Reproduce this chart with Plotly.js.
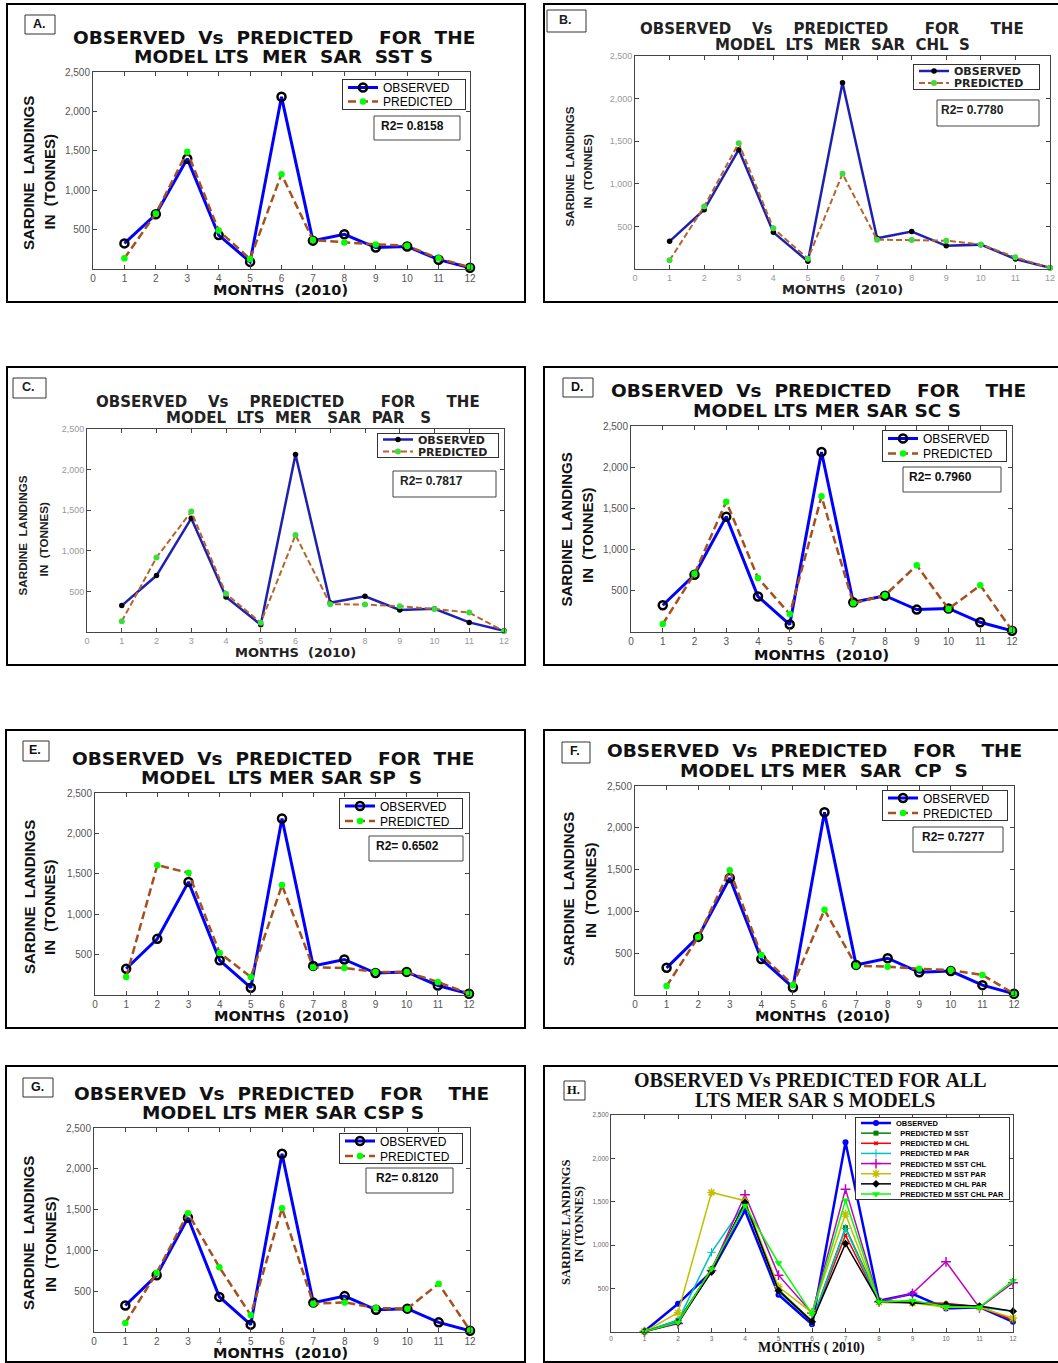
<!DOCTYPE html>
<html><head><meta charset="utf-8">
<script src="https://cdn.plot.ly/plotly-3.0.1.min.js"></script>
<style>html,body{margin:0;padding:0;background:#fff;}#chart{width:1058px;height:1363px;}</style>
</head><body><div id="chart"></div>
<script>
// ---------------- DATA ----------------
const months = [1, 2, 3, 4, 5, 6, 7, 8, 9, 10, 11, 12];
const xTickVals = [0, 1, 2, 3, 4, 5, 6, 7, 8, 9, 10, 11, 12];
const xTickText = ['0', '1', '2', '3', '4', '5', '6', '7', '8', '9', '10', '11', '12'];
const yTickVals = [500, 1000, 1500, 2000, 2500];
const yTickText = ['500', '1,000', '1,500', '2,000', '2,500'];

const observed = [325, 695, 1400, 430, 90, 2185, 360, 440, 272, 286, 118, 15];
const predSST = [135, 704, 1488, 489, 126, 1202, 367, 337, 312, 295, 135, 21];
const predCHL = [102, 734, 1477, 477, 121, 1117, 344, 340, 332, 289, 137, 12];
const predPAR = [132, 918, 1483, 470, 115, 1194, 342, 338, 317, 284, 239, 8];
const predSSTCHL = [97, 708, 1582, 655, 218, 1646, 348, 445, 809, 279, 566, 20];
const predSSTPAR = [223, 1607, 1512, 521, 223, 1360, 343, 335, 285, 285, 161, 17];
const predCHLPAR = [107, 693, 1493, 478, 119, 1019, 350, 338, 314, 299, 239, 16];
const predSSTCHLPAR = [110, 726, 1456, 795, 208, 1517, 347, 363, 294, 285, 591, 20];

// panel H (all models)
const hObserved = [8, 325, 695, 1400, 430, 90, 2185, 360, 440, 272, 286, 118];
const hSST = [5, 135, 704, 1488, 489, 126, 1202, 367, 337, 312, 295, 135];
const hCHL = [5, 102, 734, 1477, 477, 121, 1117, 344, 340, 332, 289, 137];
const hPAR = [5, 132, 918, 1483, 470, 115, 1194, 342, 338, 317, 284, 239];
const hSSTCHL = [5, 97, 708, 1582, 655, 218, 1646, 348, 445, 809, 279, 566];
const hSSTPAR = [5, 223, 1607, 1512, 521, 223, 1360, 343, 335, 285, 285, 161];
const hCHLPAR = [5, 107, 693, 1493, 478, 119, 1019, 350, 338, 314, 299, 239];
const hSSTCHLPAR = [5, 110, 726, 1456, 795, 208, 1517, 347, 363, 294, 285, 591];

const panelLetters = ['A.', 'B.', 'C.', 'D.', 'E.', 'F.', 'G.', 'H.'];
const S = '\u00A0';
const titleLine1 = [
  'OBSERVED  Vs  PREDICTED    FOR  THE',
  'OBSERVED    Vs    PREDICTED       FOR      THE',
  'OBSERVED    Vs    PREDICTED       FOR      THE',
  'OBSERVED  Vs  PREDICTED    FOR    THE',
  'OBSERVED  Vs  PREDICTED    FOR  THE',
  'OBSERVED  Vs  PREDICTED    FOR    THE',
  'OBSERVED  Vs  PREDICTED    FOR    THE',
  'OBSERVED Vs PREDICTED FOR ALL'
];
const titleLine2 = [
  'MODEL LTS  MER  SAR  SST S',
  'MODEL  LTS  MER  SAR  CHL  S',
  'MODEL  LTS  MER   SAR  PAR   S',
  'MODEL LTS MER SAR SC S',
  'MODEL  LTS MER SAR SP  S',
  'MODEL LTS MER  SAR  CP  S',
  'MODEL LTS MER SAR CSP S',
  'LTS MER SAR S MODELS'
];
const r2Labels = ['R2= 0.8158', 'R2= 0.7780', 'R2= 0.7817', 'R2= 0.7960', 'R2= 0.6502', 'R2= 0.7277', 'R2= 0.8120'];
const xTitles = ['MONTHS  (2010)', 'MONTHS  (2010)', 'MONTHS  (2010)', 'MONTHS  (2010)', 'MONTHS  (2010)', 'MONTHS  (2010)', 'MONTHS  (2010)', 'MONTHS ( 2010)'];
const yTitle1 = ['SARDINE  LANDINGS', 'SARDINE  LANDINGS', 'SARDINE  LANDINGS', 'SARDINE  LANDINGS', 'SARDINE  LANDINGS', 'SARDINE  LANDINGS', 'SARDINE  LANDINGS', 'SARDINE LANDINGS'];
const yTitle2 = ['IN  (TONNES)', 'IN  (TONNES)', 'IN  (TONNES)', 'IN  (TONNES)', 'IN  (TONNES)', 'IN  (TONNES)', 'IN  (TONNES)', 'IN (TONNES)'];
const seriesNames = ['OBSERVED', 'PREDICTED'];
const hNames = ['OBSERVED', '  PREDICTED M SST', '  PREDICTED M CHL', '  PREDICTED M PAR', '  PREDICTED M SST CHL', '  PREDICTED M SST PAR', '  PREDICTED M CHL PAR', '  PREDICTED M SST CHL PAR'];
const predictedSeries = [predSST, predCHL, predPAR, predSSTCHL, predSSTPAR, predCHLPAR, predSSTCHLPAR];
const hSeries = [hObserved, hSST, hCHL, hPAR, hSSTCHL, hSSTPAR, hCHLPAR, hSSTCHLPAR];

// ---------------- GEOMETRY / STYLE ----------------
const W = 1058, H = 1363;
const fx = p => p / W, fy = p => 1 - p / H;
const nb = s => s.replace(/ /g, S);

const panels = [
  {plot:[93,470,72,269], frame:[7,4,525,302], letter:[25,15,55,34], leg:{l:342,t:79,w:124,h:31,s:14}, r2:[374,116,460,140], r2dx:6, t1:[274,44], t2:[283,63], xt:[280,295], yt1:[28,173], yt2:[49.5,182], st:'A'},
  {plot:[635,1050,56,269], frame:[544,4,1062,302], letter:[547,10,586,32], leg:{l:913,t:64,w:127,h:26,s:12}, r2:[937,100,1039,126], r2dx:3, t1:[832,34], t2:[842,50.5], xt:[842,294], yt1:[568.5,167], yt2:[587.5,171], st:'B'},
  {plot:[87,504,429,632], frame:[7,367,525,665], letter:[13,378,46,398], leg:{l:377,t:433,w:122,h:25,s:12}, r2:[393,471,496,497], r2dx:6, t1:[288,407], t2:[298,423.5], xt:[295,657], yt1:[21.5,536], yt2:[42.5,539], st:'B'},
  {plot:[631,1012,426,632], frame:[544,367,1062,665], letter:[563,378,593,397], leg:{l:882,t:430,w:125,h:32,s:15}, r2:[903,467,1001,492], r2dx:5, t1:[818,397], t2:[827,417], xt:[821,660], yt1:[565.5,530], yt2:[587,535], st:'A'},
  {plot:[95,469,793,995], frame:[6,730,525,1028], letter:[23,741,49,761], leg:{l:339,t:798,w:124,h:31,s:15}, r2:[369,836,463,861], r2dx:6, t1:[273,765], t2:[281,784], xt:[281,1021], yt1:[29,897], yt2:[50,907], st:'A'},
  {plot:[635,1014,786,995], frame:[544,730,1062,1028], letter:[562,742,590,763], leg:{l:882,t:790,w:126,h:31,s:15}, r2:[913,827,1003,852], r2dx:8, t1:[814,757], t2:[824,777], xt:[822,1021], yt1:[568,889], yt2:[590,890], st:'A'},
  {plot:[94,470,1128,1332], frame:[6,1066,525,1362], letter:[23,1078,53,1097], leg:{l:339,t:1133,w:124,h:31,s:15}, r2:[366,1168,453,1193], r2dx:9, t1:[281,1100], t2:[283,1119], xt:[280,1358], yt1:[28,1233], yt2:[50,1244], st:'A'},
  {plot:[611,1013,1115,1332], frame:[544,1066,1062,1362], letter:[564,1081,585,1100], leg:{r:1010,t:1117,h:83,s:10.14}, r2:null, t1:[810,1087], t2:[815,1107], xt:[811,1353], yt1:[566,1223], yt2:[578.5,1224], st:'H'}
];

const styles = {
  A: {obsLine:{color:'#0000ff', width:3}, obsMarker:{symbol:'circle-open', size:8, color:'#000', line:{width:2.5, color:'#000'}},
      predLine:{color:'#a5501e', width:2.5, dash:'8px,4px'}, predMarker:{symbol:'circle', size:6.5, color:'#00ff00'},
      titleFont:{family:'DejaVu Sans', size:18.5, color:'#111', weight:'bold'}, xtFont:{family:'DejaVu Sans', size:14.5, color:'#111', weight:'bold'},
      ytFont:{family:'Liberation Sans', size:15, color:'#111', weight:'bold'}, legFont:{family:'Liberation Sans', size:12, color:'#000'},
      r2Font:{family:'Liberation Sans', size:12, color:'#111', weight:'bold'}, tickFont:{family:'Liberation Sans', size:10, color:'#555'},
      letterFont:{family:'Liberation Sans', size:12.5, color:'#111', weight:'bold'}},
  B: {obsLine:{color:'#2020b0', width:2.5}, obsMarker:{symbol:'circle', size:5.5, color:'#000'},
      predLine:{color:'#b5652d', width:2, dash:'6px,3px'}, predMarker:{symbol:'circle', size:6, color:'#3cdc3c'},
      titleFont:{family:'DejaVu Sans', size:15, color:'#222', weight:'bold'}, xtFont:{family:'DejaVu Sans', size:13, color:'#222', weight:'bold'},
      ytFont:{family:'Liberation Sans', size:11.7, color:'#222', weight:'bold'}, legFont:{family:'DejaVu Sans', size:11, color:'#222', weight:'bold'},
      r2Font:{family:'Liberation Sans', size:12, color:'#222', weight:'bold'}, tickFont:{family:'Liberation Sans', size:9, color:'#999'},
      letterFont:{family:'Liberation Sans', size:12.5, color:'#222', weight:'bold'}},
  H: {titleFont:{family:'Liberation Serif', size:20, color:'#111', weight:'bold'}, xtFont:{family:'Liberation Serif', size:14, color:'#111', weight:'bold'},
      ytFont:{family:'Liberation Serif', size:12.5, color:'#111', weight:'bold'}, legFont:{family:'Liberation Sans', size:7.5, color:'#000', weight:'bold'},
      tickFont:{family:'Liberation Sans', size:6.5, color:'#666'}, letterFont:{family:'Liberation Serif', size:12.5, color:'#111', weight:'bold'}}
};

const hStyles = [
  {line:{color:'#0000ff', width:2.5}, marker:{symbol:'circle', size:6, color:'#0000ff'}},
  {line:{color:'#008000', width:1.5}, marker:{symbol:'square', size:5, color:'#008000'}},
  {line:{color:'#ff0000', width:1.5}, marker:{symbol:'x', size:4, color:'#ff0000'}},
  {line:{color:'#00c0c0', width:1.5}, marker:{symbol:'cross-thin-open', size:6, color:'#00c0c0', line:{width:1, color:'#00c0c0'}}},
  {line:{color:'#c000c0', width:1.5}, marker:{symbol:'cross-thin-open', size:7, color:'#c000c0', line:{width:1.5, color:'#c000c0'}}},
  {line:{color:'#c0c000', width:1.5}, marker:{symbol:'asterisk-open', size:7, color:'#c0c000', line:{width:1.5, color:'#c0c000'}}},
  {line:{color:'#000000', width:1.5}, marker:{symbol:'diamond', size:6, color:'#000000'}},
  {line:{color:'#00ff00', width:1.5}, marker:{symbol:'triangle-down', size:7, color:'#00ff00'}}
];

// ---------------- BUILD ----------------
const traces = [];
const layout = {width:W, height:H, margin:{l:0, r:0, t:0, b:0}, paper_bgcolor:'#fff', plot_bgcolor:'#fff',
  showlegend:true, annotations:[], shapes:[], hovermode:false};

function ann(text, x, y, font, extra) {
  layout.annotations.push(Object.assign({text:text, x:fx(x), y:fy(y), xref:'paper', yref:'paper', showarrow:false,
    xanchor:'center', yanchor:'middle', borderpad:0, font:font}, extra || {}));
}
function rect(b, color, width) {
  layout.shapes.push({type:'rect', xref:'paper', yref:'paper', x0:fx(b[0]), x1:fx(b[2]), y0:fy(b[3]), y1:fy(b[1]),
    line:{color:color, width:width}, fillcolor:'rgba(0,0,0,0)', layer:'above'});
}

panels.forEach((p, i) => {
  const k = i + 1, suf = k === 1 ? '' : String(k);
  const st = styles[p.st];
  const axisBase = {ticks:'inside', ticklen:4, tickwidth:1, tickcolor:'#444', showline:true, linecolor:'#444', linewidth:1,
    mirror:'ticks', showgrid:false, zeroline:false, tickmode:'array', tickfont:st.tickFont, fixedrange:true};
  layout['xaxis' + suf] = Object.assign({}, axisBase, {domain:[fx(p.plot[0]), fx(p.plot[1])], anchor:'y' + suf,
    range:[0, 12], tickvals:xTickVals, ticktext:xTickText});
  layout['yaxis' + suf] = Object.assign({}, axisBase, {domain:[fy(p.plot[3]), fy(p.plot[2])], anchor:'x' + suf,
    range:[0, 2500], tickvals:yTickVals, ticktext:yTickText});

  const lid = 'legend' + suf;
  const L = p.leg;
  layout[lid] = {x: L.l !== undefined ? fx(L.l) : fx(L.r), xanchor: L.l !== undefined ? 'left' : 'right',
    y:fy(L.t), yanchor:'top', bgcolor:'#fff', bordercolor:'#333', borderwidth:1, font:st.legFont, tracegroupgap:0};

  if (p.st !== 'H') {
    traces.push({type:'scatter', mode:'lines+markers', x:months, y:observed, name:seriesNames[0], xaxis:'x' + suf, yaxis:'y' + suf,
      legend:lid, line:st.obsLine, marker:st.obsMarker, cliponaxis:false});
    traces.push({type:'scatter', mode:'lines+markers', x:months, y:predictedSeries[i], name:seriesNames[1], xaxis:'x' + suf, yaxis:'y' + suf,
      legend:lid, line:st.predLine, marker:st.predMarker, cliponaxis:false});
  } else {
    hSeries.forEach((ser, j) => {
      traces.push({type:'scatter', mode:'lines+markers', x:months, y:ser, name:nb(hNames[j]), xaxis:'x' + suf, yaxis:'y' + suf,
        legend:lid, line:hStyles[j].line, marker:hStyles[j].marker, cliponaxis:false});
    });
  }

  rect(p.frame, '#000', 2);
  rect(p.letter, '#333', 1);
  const lc = [(p.letter[0] + p.letter[2]) / 2 - 1, p.letter[1] + 0.45 * (p.letter[3] - p.letter[1])];
  ann(panelLetters[i], lc[0], lc[1], st.letterFont);
  if (p.r2) {
    rect(p.r2, '#444', 1);
    ann(nb(r2Labels[i]), p.r2[0] + p.r2dx, p.r2[1] + 2, st.r2Font, {xanchor:'left', yanchor:'top'});
  }
  const tf = st.titleFont;
  ann(nb(titleLine1[i]), p.t1[0], p.t1[1] - 0.36 * tf.size, tf);
  ann(nb(titleLine2[i]), p.t2[0], p.t2[1] - 0.36 * tf.size, tf);
  ann(nb(xTitles[i]), p.xt[0], p.xt[1] - 0.36 * st.xtFont.size, st.xtFont);
  ann(nb(yTitle1[i]), p.yt1[0], p.yt1[1], st.ytFont, {textangle:-90});
  ann(nb(yTitle2[i]), p.yt2[0], p.yt2[1], st.ytFont, {textangle:-90});
});

const gd = document.getElementById('chart');

function parseT(el) {
  if (!el) return [0, 0];
  const t = el.getAttribute('transform') || '';
  const m = t.match(/translate\(\s*([-\d.eE]+)[\s,]+([-\d.eE]+)\s*\)/);
  return m ? [parseFloat(m[1]), parseFloat(m[2])] : [0, 0];
}
function fixLegends() {
  panels.forEach((p, i) => {
    const id = 'legend' + (i === 0 ? '' : String(i + 1));
    const g = gd.querySelector('g.' + id);
    if (!g) return;
    const L = p.leg;
    const items = g.querySelectorAll('g.traces');
    const n = items.length;
    const sb = parseT(g.querySelector('g.scrollbox'));
    const gr = parseT(g.querySelector('g.groups'));
    const first = (L.h - (n - 1) * L.s) / 2;
    items.forEach((it, kk) => {
      const t = parseT(it);
      it.setAttribute('transform', 'translate(' + t[0] + ',' + (first + kk * L.s - sb[1] - gr[1]) + ')');
    });
    const bg = g.querySelector('rect.bg');
    if (bg) {
      bg.setAttribute('height', L.h - 1);
      if (L.w) {
        const cw = parseFloat(bg.getAttribute('width')) || 0;
        if (cw < L.w - 1) bg.setAttribute('width', L.w - 1);
      }
    }
  });
}

Plotly.newPlot(gd, traces, layout, {staticPlot:true, displayModeBar:false}).then(() => {
  fixLegends();
  gd.on && gd.on('plotly_afterplot', fixLegends);
  setTimeout(fixLegends, 50);
  setTimeout(fixLegends, 300);
});
</script>
</body></html>
